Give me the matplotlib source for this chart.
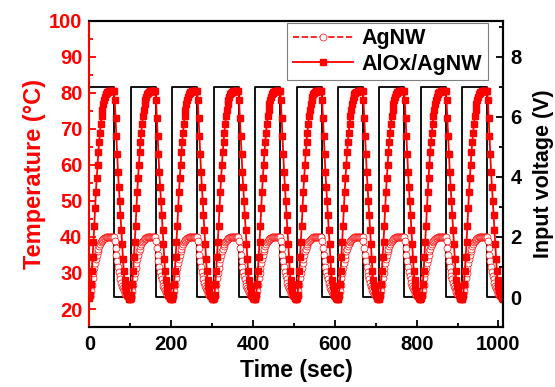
import numpy as np
import matplotlib
matplotlib.use('Agg')
import matplotlib.pyplot as plt

plt.rcParams['font.family'] = ['Liberation Sans', 'DejaVu Sans']
plt.rcParams['font.weight'] = 'bold'

# pulse on/off times (sec) of the input voltage
pulseOn = [0, 101, 203, 304, 406, 507, 608, 709, 811, 912]
pulseOff = [61, 162, 264, 365, 467, 568, 669, 770, 872, 973]
vHigh = 7.0
vLow = 0.0
tEnd = 1012

# one heating/cooling cycle, time measured from pulse on (sec)
relT = [0, 2, 4, 6, 8, 10, 12, 14, 16, 18, 20, 22, 24, 26, 28, 30, 32, 34, 36, 38,
        40, 42, 44, 46, 48, 50, 52, 54, 56, 58, 60, 62, 64, 66, 68, 70, 72, 74, 76, 78,
        80, 82, 84, 86, 88, 90, 92, 94, 96, 98, 100]
tempAlOx = [23.0, 24.0, 27.0, 30.5, 34.5, 38.5, 43.0, 48.0, 52.5, 56.5,
            60.0, 63.5, 66.5, 69.0, 71.5, 73.5, 75.3, 76.8, 78.0, 78.9,
            79.6, 80.0, 80.2, 80.3, 80.4, 80.4, 80.5, 80.5, 80.5, 80.5,
            80.5, 78.0, 73.0, 68.0, 63.0, 58.0, 54.0, 50.0, 46.0, 42.0,
            38.0, 34.0, 30.5, 28.0, 26.5, 25.0, 24.0, 23.5, 23.0, 22.8, 22.7]
tempAgNW = [23.0, 23.5, 25.0, 26.8, 28.5, 30.0, 31.5, 32.8, 34.0, 35.0,
            36.0, 36.8, 37.5, 38.1, 38.6, 39.0, 39.3, 39.5, 39.7, 39.8,
            39.9, 40.0, 40.0, 40.0, 40.0, 40.0, 40.0, 40.0, 40.0, 40.0,
            40.0, 39.0, 37.0, 35.0, 33.3, 31.8, 30.4, 29.2, 28.2, 27.3,
            26.5, 25.8, 25.2, 24.7, 24.2, 23.8, 23.5, 23.2, 23.0, 22.8, 22.7]

def buildSeries():
    tt = []; aa = []; gg = []
    for t0 in pulseOn:
        for r, a, g in zip(relT, tempAlOx, tempAgNW):
            tt.append(t0 + r); aa.append(a); gg.append(g)
    return np.array(tt), np.array(aa), np.array(gg)

def buildVoltage():
    vt = []; vv = []
    for on, off in zip(pulseOn, pulseOff):
        vt += [on, off]; vv += [vHigh, vLow]
    vt.append(tEnd); vv.append(vLow)
    return vt, vv

t, alox, agnw = buildSeries()
vt, vv = buildVoltage()

fig = plt.figure(figsize=(5.55, 3.87), dpi=100)
ax = fig.add_axes([0.161, 0.155, 0.746, 0.791])
ax2 = ax.twinx()
ax.set_zorder(ax2.get_zorder() + 1)
ax.patch.set_visible(False)

ax2.step(vt, vv, where='post', color='black', lw=1.3)

ax.plot(t, agnw, ls='--', color='red', lw=1.2, marker='o', ms=5,
        mfc='white', mec='red', mew=0.5, label='AgNW')
ax.plot(t, alox, ls='-', color='red', lw=1.3, marker='s', ms=4.8,
        mfc='red', mec='red', label='AlOx/AgNW')

ax.set_xlim(0, tEnd)
ax.set_ylim(15, 100)
ax2.set_ylim(-1, 9.2)

ax.set_xticks([0, 200, 400, 600, 800, 1000])
ax.set_xticks([100, 300, 500, 700, 900], minor=True)
ax.set_yticks(range(20, 101, 10))
ax.set_yticks(range(15, 100, 10), minor=True)
ax2.set_yticks([0, 2, 4, 6, 8])
ax2.set_yticks([1, 3, 5, 7, 9], minor=True)

for a in (ax, ax2):
    for s in a.spines.values():
        s.set_linewidth(1.5)
        s.set_color('black')
ax.spines['left'].set_color('red')
ax2.spines['left'].set_visible(False)

ax.tick_params(axis='x', which='both', direction='in', top=False, labelsize=14.5,
               pad=6, width=1.3, colors='black')
ax.tick_params(axis='x', which='major', length=5)
ax.tick_params(axis='x', which='minor', length=3)
ax.tick_params(axis='y', which='both', direction='in', labelsize=14.5, pad=5,
               width=1.3, colors='red')
ax.tick_params(axis='y', which='major', length=5)
ax.tick_params(axis='y', which='minor', length=3)
ax2.tick_params(axis='y', which='both', direction='in', labelsize=14.5, pad=5,
                width=1.3, colors='black')
ax2.tick_params(axis='y', which='major', length=5)
ax2.tick_params(axis='y', which='minor', length=3)

ax.set_xlabel('Time (sec)', fontsize=16.5, fontweight='bold', labelpad=3)
ax.set_ylabel('Temperature (°C)', fontsize=17, fontweight='bold', color='red', labelpad=2)
ax2.set_ylabel('Input voltage (V)', fontsize=15.5, fontweight='bold', labelpad=8)

leg = ax.legend(loc='upper right', bbox_to_anchor=(0.962, 0.993), fontsize=15.5,
                frameon=True, fancybox=False, edgecolor='gray', framealpha=1,
                handlelength=2.8, borderpad=0.25, labelspacing=0.2, handletextpad=0.4,
                borderaxespad=0.0)
leg.get_frame().set_linewidth(0.8)

plt.savefig('out.png', dpi=100)
